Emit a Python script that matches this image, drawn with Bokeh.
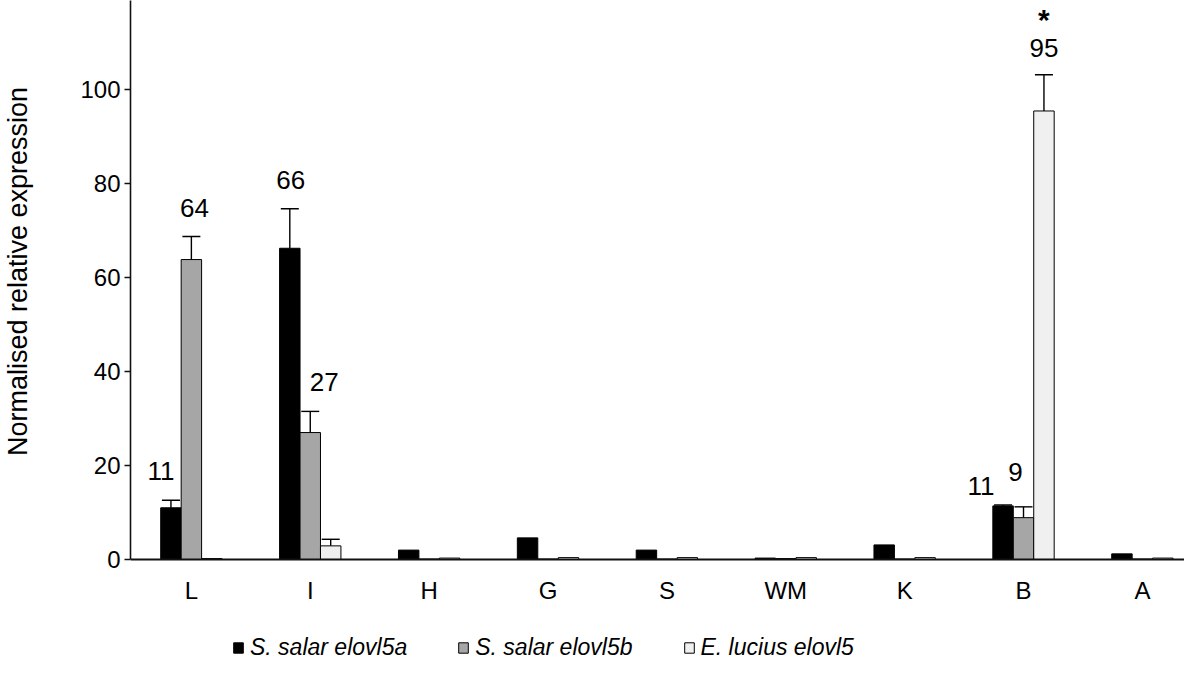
from bokeh.plotting import figure
from bokeh.models import (Range1d, FixedTicker, Whisker, TeeHead, ColumnDataSource,
                          Legend, LegendItem)
from bokeh.embed import file_html
from bokeh.resources import INLINE
from bokeh.core.properties import value

# ---------------- data ----------------
tissues = ["L", "I", "H", "G", "S", "WM", "K", "B", "A"]
series_names = ["S. salar elovl5a", "S. salar elovl5b", "E. lucius elovl5"]
elovl5a = [11.0, 66.2, 2.0, 4.6, 2.0, 0.3, 3.1, 11.4, 1.2]
elovl5b = [63.8, 27.0, 0.1, 0.1, 0.1, 0.2, 0.1, 8.9, 0.1]
elovl5_pike = [0.2, 2.9, 0.3, 0.4, 0.4, 0.4, 0.4, 95.4, 0.3]
err_a = [1.6, 8.4, 0.0, 0.0, 0.0, 0.0, 0.0, 0.2, 0.0]
err_b = [4.9, 4.5, 0.0, 0.0, 0.0, 0.0, 0.0, 2.3, 0.0]
err_c = [0.0, 1.4, 0.0, 0.0, 0.0, 0.0, 0.0, 7.7, 0.0]
y_ticks = [0, 20, 40, 60, 80, 100]
y_top = 118.9
y_title = "Normalised relative expression"
# labelled bars: (tissue, series index)
labelled = [("L", 0), ("L", 1), ("I", 0), ("I", 1), ("B", 0), ("B", 1), ("B", 2)]
significant = [("B", 2)]

# ---------------- style ----------------
FONT = "Liberation Sans"
colors = ["#000000", "#a6a6a6", "#f0f0f0"]
bar_w = 0.172
offsets = [-bar_w, 0.0, bar_w]
label_shift = {("L", 0): (-10, -29), ("L", 1): (3, -29), ("I", 0): (1, -29),
               ("I", 1): (14, -29), ("B", 0): (-22, -19), ("B", 1): (-8, -35),
               ("B", 2): (0, -27)}

W, H = 1184, 662
LEFT = 128
ZERO_Y = 559.0      # pixel row of value 0
PX_PER_UNIT = ZERO_Y / y_top
X0_PX, STEP_PX = 189.0, 119.1   # pixel column of first category, spacing
x_start = (LEFT - X0_PX) / STEP_PX
x_end = (W - X0_PX) / STEP_PX
y_start = -(H - ZERO_Y) / PX_PER_UNIT

p = figure(width=W, height=H, x_range=Range1d(x_start, x_end),
           y_range=Range1d(y_start, y_top), output_backend="svg", toolbar_location=None,
           min_border_left=LEFT, min_border_right=0, min_border_top=0,
           min_border_bottom=0)
p.outline_line_color = None
p.xgrid.visible = False
p.ygrid.visible = False

vals = [elovl5a, elovl5b, elovl5_pike]
errs = [err_a, err_b, err_c]
renderers = []
for k in range(3):
    xs = [i + offsets[k] for i in range(len(tissues))]
    src = ColumnDataSource(dict(x=xs, top=vals[k]))
    r = p.vbar(x="x", top="top", width=bar_w, bottom=0, source=src,
               fill_color=colors[k], line_color="black", line_width=1)
    renderers.append(r)
    ex, lo, up = [], [], []
    for i in range(len(tissues)):
        if errs[k][i] > 0:
            ex.append(xs[i]); lo.append(vals[k][i]); up.append(vals[k][i] + errs[k][i])
    wsrc = ColumnDataSource(dict(base=ex, lower=lo, upper=up))
    w = Whisker(source=wsrc, base="base", lower="lower", upper="upper",
                dimension="height", line_color="black", line_width=1.4,
                lower_head=None,
                upper_head=TeeHead(size=18, line_color="black", line_width=1.4))
    p.add_layout(w)

# value labels
lx, ly, lt, ldx, ldy = [], [], [], [], []
for (t, k) in labelled:
    i = tissues.index(t)
    lx.append(i + offsets[k])
    ly.append(vals[k][i] + errs[k][i])
    lt.append(str(int(round(vals[k][i]))))
    dx, dy = label_shift[(t, k)]
    ldx.append(dx); ldy.append(dy)
lsrc = ColumnDataSource(dict(x=lx, y=ly, text=lt, dx=ldx, dy=ldy))
p.text(x="x", y="y", text="text", x_offset="dx", y_offset="dy", source=lsrc,
       text_align="center", text_baseline="middle", text_font=value(FONT),
       text_font_size="26px", text_color="black")

sx, sy = [], []
for (t, k) in significant:
    i = tissues.index(t)
    sx.append(i + offsets[k]); sy.append(vals[k][i] + errs[k][i])
p.text(x=sx, y=sy, text=["*"] * len(sx), y_offset=-55, text_align="center",
       text_baseline="alphabetic", text_font=value(FONT), text_font_size="30px",
       text_font_style="bold", text_color="black")

# axes
p.yaxis.ticker = FixedTicker(ticks=y_ticks)
p.yaxis.bounds = (0, y_top)
p.yaxis.minor_tick_line_color = None
p.yaxis.major_tick_out = 6
p.yaxis.major_tick_in = 0
p.yaxis.major_label_standoff = 4
p.yaxis.major_label_text_font = FONT
p.yaxis.major_label_text_font_size = "24px"
p.yaxis.major_label_text_color = "black"
p.yaxis.axis_line_color = "#111111"
p.yaxis.axis_line_width = 1.6
p.yaxis.major_tick_line_color = "#111111"
p.yaxis.major_tick_line_width = 1.6
# the title is centred on the 0..top span of the axis rather than on the whole frame:
# pad its start with no-break spaces so that it sits where the reference has it
p.yaxis.axis_label = "\u00a0" * 16 + y_title
p.yaxis.axis_label_text_font = FONT
p.yaxis.axis_label_text_font_size = "27px"
p.yaxis.axis_label_text_font_style = "normal"
p.yaxis.axis_label_text_color = "black"
p.yaxis.axis_label_standoff = 44

p.xaxis.fixed_location = 0
p.xaxis.ticker = FixedTicker(ticks=list(range(len(tissues))))
p.xaxis.major_label_overrides = {i: t for i, t in enumerate(tissues)}
p.xaxis.minor_tick_line_color = None
p.xaxis.major_tick_line_color = None
p.xaxis.major_tick_out = 0
p.xaxis.major_tick_in = 0
p.xaxis.major_label_standoff = 17
p.xaxis.major_label_text_font = FONT
p.xaxis.major_label_text_font_size = "24px"
p.xaxis.major_label_text_color = "black"
p.xaxis.axis_line_color = "#111111"
p.xaxis.axis_line_width = 2

legend = Legend(items=[LegendItem(label=series_names[k], renderers=[renderers[k]])
                       for k in range(3)],
                orientation="horizontal", location=(102, 1),
                border_line_color=None, background_fill_alpha=0,
                padding=0, margin=0, spacing=50, label_standoff=6,
                glyph_width=12, glyph_height=13,
                label_text_font=FONT, label_text_font_size="23px",
                label_text_font_style="italic", label_text_color="black")
p.add_layout(legend)

open("out.html", "w").write(file_html(p, INLINE))
